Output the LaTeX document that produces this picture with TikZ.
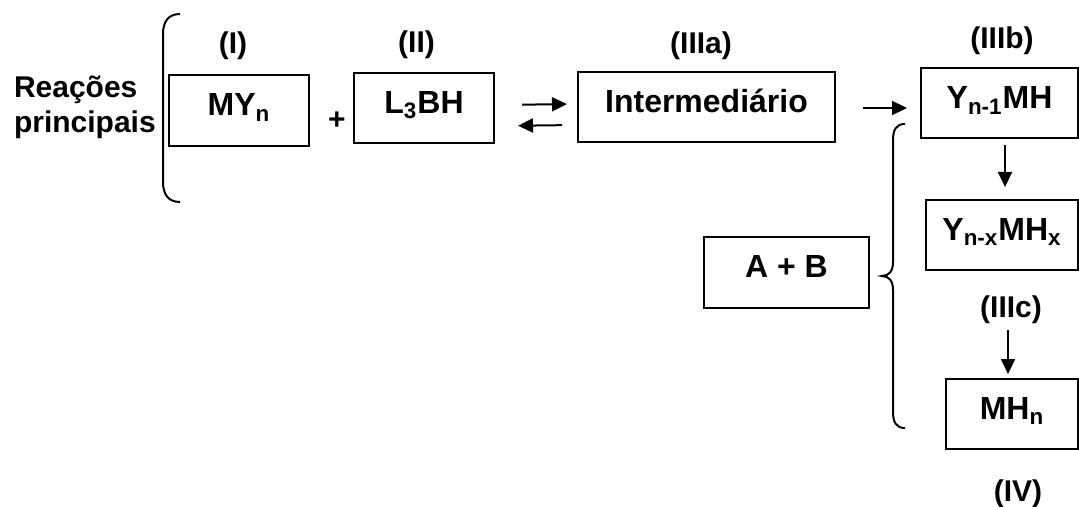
\documentclass[tikz,border=0pt]{standalone}
\usepackage{fontspec}
\setmainfont{Liberation Sans}
\usetikzlibrary{arrows.meta}

\begin{document}
\begin{tikzpicture}[
            x = 0.5pt, y = -0.5pt, % one unit is one pixel
            > = {Triangle[length=7.5pt,width=7pt]}, % arrow head style
            line width = 1pt,
            font = \fontsize{15}{17.5}\selectfont\bfseries,
            box/.style = {draw, minimum height=35pt, text height=11.5pt, text depth=6pt, inner sep=0pt,
                          font=\fontsize{16}{19}\selectfont\bfseries},
            tag/.style = {inner sep=0pt}
        ]
\useasboundingbox (0,0) rectangle (1079,507);

\node[tag, anchor=west, align=left] (rp) at (13,107) {Reações\\principais};

\node[box, minimum width=70pt, minimum height=35.5pt] (my) at (239,110.5) {MY\textsubscript{n}};
\node[box, minimum width=70pt] (lbh) at (424,108) {L\textsubscript{3}BH};
\node[box, minimum width=128.5pt] (inter) at (706.5,107) {Intermediário};
\node[box, minimum width=78.5pt] (ynone) at (999.5,103.5) {Y\textsubscript{n-1}MH};
\node[box, minimum width=76pt] (ynx) at (1002,235) {Y\textsubscript{n-x}MH\textsubscript{x}};
\node[box, minimum width=66pt] (mhn) at (1012,414) {MH\textsubscript{n}};
\node[box, minimum width=82.5pt] (ab) at (786.5,272.5) {A + B};

\node[tag] (i) at (233,46) {(I)};
\node[tag] (ii) at (416.5,45) {(II)};
\node[tag] (iiia) at (701,45.5) {(IIIa)};
\node[tag] (iiib) at (1002,41) {(IIIb)};
\node[tag] (iiic) at (1011,310) {(IIIc)};
\node[tag] (iv) at (1018,494) {(IV)};
\node[tag] (plus) at (337,121) {+};

% brackets
\draw (180,14) .. controls (168,14) and (163,22) .. (163,34) -- (163,182)
      .. controls (163,194) and (168,202) .. (180,202);
\draw (905,124) .. controls (896,124) and (893,130) .. (893,140) -- (893,262)
      .. controls (893,271) and (889,276) .. (882,276)
      .. controls (889,276) and (893,281) .. (893,290) -- (893,412)
      .. controls (893,422) and (896,428) .. (905,428);

% arrows
\path [->, shorten <=13.5pt, shorten >=5pt] ([yshift=1.5pt]lbh.east) edge ([yshift=1.5pt]inter.west);
\path [->, shorten <=7.5pt, shorten >=11.5pt] ([yshift=-9pt]inter.west) edge ([yshift=-9pt]lbh.east);
\path [->, shorten <=13.5pt, shorten >=6.5pt] ([yshift=-0.5pt]inter.east) edge ([yshift=-0.5pt]inter.east -| ynone.west);
\path [->, shorten <=3pt, shorten >=6pt] ([xshift=2.75pt]ynone.south) edge ([xshift=2.75pt]ynone.south |- ynx.north);
\path [->, shorten <=2.5pt, shorten >=2pt] ([xshift=-1.5pt]iiic.south) edge ([xshift=-1.5pt]iiic.south |- mhn.north);
\end{tikzpicture}
\end{document}
